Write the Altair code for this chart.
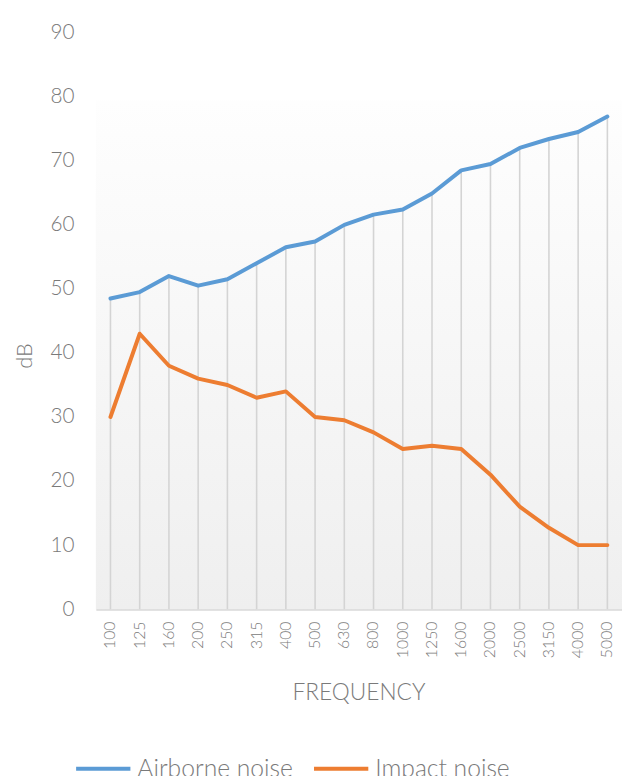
import altair as alt
import pandas as pd

frequencies = ["100", "125", "160", "200", "250", "315", "400", "500", "630", "800",
               "1000", "1250", "1600", "2000", "2500", "3150", "4000", "5000"]
airborne = [48.5, 49.5, 52, 50.5, 51.5, 54, 56.5, 57.4, 60, 61.6,
            62.4, 64.9, 68.5, 69.5, 72, 73.4, 74.5, 76.9]
impact = [30, 43, 38, 36, 35, 33, 34, 30, 29.5, 27.6,
          25, 25.5, 25, 21, 16, 12.7, 10, 10]
series_names = ["Airborne noise", "Impact noise"]
series_colors = ["#5B9BD5", "#ED7D31"]
y_ticks = [0, 10, 20, 30, 40, 50, 60, 70, 80, 90]
background_top = 79.4

rows = []
for k, (f, a, i) in enumerate(zip(frequencies, airborne, impact)):
    rows.append({"freq": f, "idx": k, "series": series_names[0], "value": a})
    rows.append({"freq": f, "idx": k, "series": series_names[1], "value": i})
long_df = pd.DataFrame(rows)
wide_df = pd.DataFrame({"freq": frequencies, "airborne": airborne, "base": [0] * len(frequencies)})
bg_df = pd.DataFrame({"top": [background_top], "bottom": [0]})

GRAY = "#7a7a7a"
FONT = "Lato"
W, H = 533, 584

x_enc = alt.X(
    "freq:N",
    sort=frequencies,
    scale=alt.Scale(paddingInner=0, paddingOuter=0),
    axis=alt.Axis(
        title="FREQUENCY",
        labelAngle=270,
        labelFontSize=16,
        labelFontWeight=300,
        labelColor=GRAY,
        labelFont=FONT,
        labelPadding=12,
        ticks=False,
        grid=False,
        domainColor="#d9d9d9",
        domainWidth=2,
        titleFont=FONT,
        titleFontSize=23,
        titleFontWeight=300,
        titleColor=GRAY,
        titleX=266,
        titleY=85,
        titleBaseline="middle",
        titleAlign="center",
    ),
)
y_scale = alt.Scale(domain=[0, 90], nice=False, zero=True)
y_axis = alt.Axis(
    title="dB",
    values=y_ticks,
    labelFontSize=21,
    labelFontWeight=300,
    labelColor=GRAY,
    labelFont=FONT,
    labelPadding=22,
    ticks=False,
    grid=False,
    domain=False,
    titleFont=FONT,
    titleFontSize=22,
    titleFontWeight=300,
    titleColor=GRAY,
    titleAngle=270,
    titleX=-72,
    titleY=327,
    titleAlign="center",
    titleBaseline="middle",
)

background = alt.Chart(bg_df).mark_rect(
    color=alt.Gradient(
        gradient="linear",
        stops=[alt.GradientStop(color="#fefefe", offset=0),
               alt.GradientStop(color="#efefef", offset=1)],
        x1=0, x2=0, y1=0, y2=1,
    )
).encode(
    x=alt.value(0),
    x2=alt.value(W),
    y=alt.Y("top:Q", scale=y_scale, axis=y_axis),
    y2="bottom:Q",
)

drops = alt.Chart(wide_df).mark_rule(color="#d4d4d4", strokeWidth=1.6).encode(
    x=x_enc,
    y="base:Q",
    y2="airborne:Q",
)

lines = alt.Chart(long_df).mark_line(strokeWidth=4, strokeCap="round", strokeJoin="round").encode(
    x=x_enc,
    y=alt.Y("value:Q"),
    color=alt.Color(
        "series:N",
        scale=alt.Scale(domain=series_names, range=series_colors),
        legend=alt.Legend(
            title=None,
            orient="none",
            legendX=-22,
            legendY=716,
            direction="horizontal",
            symbolType="stroke",
            symbolSize=3025,
            symbolStrokeWidth=4,
            labelFontSize=25,
            labelFontWeight=300,
            labelFont=FONT,
            labelColor=GRAY,
            labelOffset=5,
            columnPadding=13,
            labelLimit=300,
        ),
    ),
    order=alt.Order("idx:Q"),
)

chart = alt.layer(background, drops, lines).properties(
    width=W,
    height=H,
    autosize=alt.AutoSizeParams(type="none"),
    padding={"left": 89, "top": 20, "right": 0, "bottom": 164},
).configure_view(stroke=None)

chart.save("out.html", embed_options={"renderer": "svg", "actions": False})
